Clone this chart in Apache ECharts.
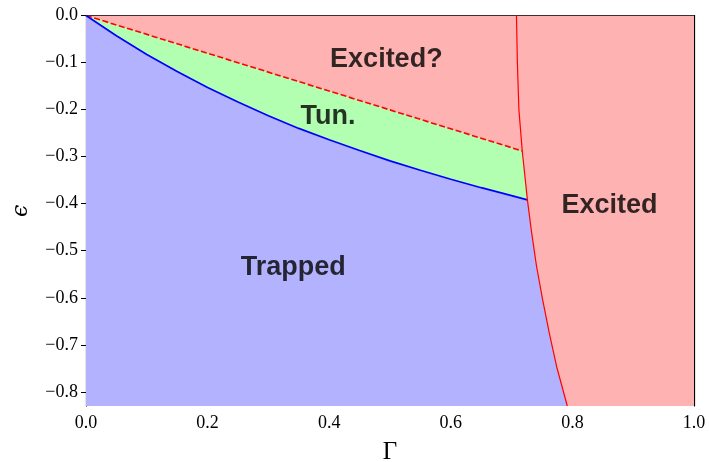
<!DOCTYPE html>
<html>
<head>
<meta charset="utf-8">
<script src="https://cdn.jsdelivr.net/npm/echarts@6/dist/echarts.min.js"></script>
<style>
html,body{margin:0;padding:0;background:#fff;}
#chart{width:709px;height:462px;}
</style>
</head>
<body>
<div id="chart"></div>
<script>
// ---- data ----
// solid red boundary (Excited), from top to bottom
const redGamma = [0.708, 0.7095, 0.712, 0.7175, 0.726, 0.733, 0.741, 0.751, 0.762, 0.774, 0.7916];
const redEps   = [0.0,   -0.1,   -0.2,  -0.288, -0.392, -0.462, -0.533, -0.604, -0.675, -0.746, -0.83];
// blue boundary (Trapped / Tunnelling)
const blueGamma = [0, 0.05, 0.1, 0.15, 0.2, 0.25, 0.3, 0.35, 0.4, 0.45, 0.5, 0.55, 0.6, 0.65, 0.7, 0.726];
const blueEps   = [0, -0.043, -0.083, -0.119, -0.153, -0.184, -0.213, -0.240, -0.264, -0.287, -0.309, -0.329, -0.348, -0.366, -0.383, -0.392];
// dashed red boundary (Tunnelling / Excited?)
const dashGamma = [0, 0.7175];
const dashEps   = [0, -0.288];
// whole-domain upper edge (Excited background)
const edgeGamma = [0, 1];
const edgeEps   = [0, 0];
// region labels
const labelText  = ['Excited?', 'Tun.', 'Excited', 'Trapped'];
const labelGamma = [0.494, 0.398, 0.861, 0.341];
const labelEps   = [-0.094, -0.214, -0.404, -0.536];
// ticks
const xTicks = [0, 0.2, 0.4, 0.6, 0.8, 1.0];
const yTicks = [0, -0.1, -0.2, -0.3, -0.4, -0.5, -0.6, -0.7, -0.8];
const yMin = -0.83, yMax = 0, xMin = 0, xMax = 1;

const zip = (a, b) => a.map((v, i) => [v, b[i]]);
const redPts = zip(redGamma, redEps);
const bluePts = zip(blueGamma, blueEps);
const dashPts = zip(dashGamma, dashEps);
const edgePts = zip(edgeGamma, edgeEps);
// region upper boundaries
const dashJoin = redPts.findIndex(p => p[1] === dashEps[dashEps.length - 1]);
const blueJoin = redPts.findIndex(p => p[1] === blueEps[blueEps.length - 1]);
const tunTop = dashPts.concat(redPts.slice(dashJoin + 1));
const trapTop = bluePts.concat(redPts.slice(blueJoin + 1));

const RED_FILL = '#ffb2b2', GREEN_FILL = '#b2ffb2', BLUE_FILL = '#b2b2ff';
const fmt = v => (v < -1e-9 ? '\u2212' : '') + Math.abs(v).toFixed(1);
const tickFont = {fontFamily: 'Liberation Serif', fontSize: 18, color: '#000'};

const chart = echarts.init(document.getElementById('chart'), null, {renderer: 'canvas'});
const areaSeries = (data, color, z) => ({
  type: 'line', data, symbol: 'none', silent: true, z,
  lineStyle: {width: 0, opacity: 0},
  areaStyle: {color, opacity: 1, origin: 'start'}
});
const lineSeries = (data, color, type, width, z) => ({
  type: 'line', data, symbol: 'none', silent: true, z,
  lineStyle: {color, width, type}
});

chart.setOption({
  animation: false,
  grid: {left: 86, right: 15, top: 15.5, bottom: 56, containLabel: false, outerBoundsMode: 'none'},
  xAxis: [{
    type: 'value', min: xMin, max: xMax, position: 'bottom',
    name: 'Γ', nameLocation: 'middle', nameGap: 34,
    nameTextStyle: {fontFamily: 'Liberation Serif', fontSize: 25, color: '#000'},
    axisLine: {show: true, lineStyle: {color: '#000', width: 1.2}},
    axisTick: {show: true, length: 5, lineStyle: {color: '#000', width: 1}, customValues: xTicks},
    axisLabel: Object.assign({margin: 8, formatter: fmt, customValues: xTicks}, tickFont),
    splitLine: {show: false}
  }, {
    type: 'value', min: xMin, max: xMax, position: 'top',
    axisLine: {show: true, lineStyle: {color: '#000', width: 1.2}},
    axisTick: {show: false}, axisLabel: {show: false}, splitLine: {show: false}
  }],
  yAxis: [{
    type: 'value', min: yMin, max: yMax, position: 'left',
    name: 'ϵ', nameLocation: 'middle', nameGap: 54, nameRotate: 90,
    nameTextStyle: {fontFamily: 'DejaVu Serif', fontStyle: 'italic', fontSize: 22, color: '#000'},
    axisLine: {show: true, onZero: false, lineStyle: {color: '#000', width: 1.2}},
    axisTick: {show: true, length: 5, lineStyle: {color: '#000', width: 1}, customValues: yTicks},
    axisLabel: Object.assign({margin: 8, formatter: fmt, customValues: yTicks}, tickFont),
    splitLine: {show: false}
  }, {
    type: 'value', min: yMin, max: yMax, position: 'right',
    axisLine: {show: true, onZero: false, lineStyle: {color: '#000', width: 1.2}},
    axisTick: {show: false}, axisLabel: {show: false}, splitLine: {show: false}
  }],
  series: [
    areaSeries(edgePts, RED_FILL, 1),
    areaSeries(tunTop, GREEN_FILL, 2),
    areaSeries(trapTop, BLUE_FILL, 3),
    lineSeries(dashPts, '#ff0000', [6, 2.6], 1.6, 5),
    lineSeries(bluePts, '#0000ff', 'solid', 1.7, 5),
    lineSeries(redPts, '#ff0000', 'solid', 1.2, 5),
    {
      type: 'scatter', symbolSize: 0, silent: true, z: 6,
      data: labelText.map((t, i) => ({name: t, value: [labelGamma[i], labelEps[i]]})),
      label: {
        show: true, position: 'inside', formatter: p => p.name,
        fontFamily: 'Liberation Sans', fontWeight: 'bold', fontSize: 27, color: '#000',
        textBorderWidth: 0
      }
    }
  ]
});
</script>
</body>
</html>
